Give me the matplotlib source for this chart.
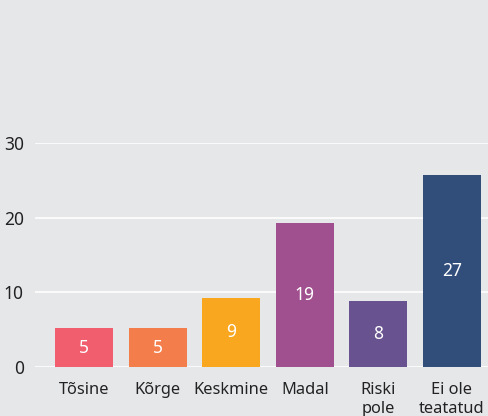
import matplotlib
matplotlib.use("Agg")
import matplotlib.pyplot as plt

categories = ["Tõsine", "Kõrge", "Keskmine", "Madal", "Riski\npole", "Ei ole\nteatatud"]
heights = [5.2, 5.2, 9.3, 19.3, 8.9, 25.7]
labels = ["5", "5", "9", "19", "8", "27"]
colors = ["#f15e6d", "#f47e4b", "#f9a71f", "#a0508f", "#68528f", "#314e7b"]
yticks = [0, 10, 20, 30]

plt.rcParams['font.family'] = ['Noto Sans', 'DejaVu Sans']
bg = "#e6e7e9"
fig = plt.figure(figsize=(4.88, 4.16), dpi=100, facecolor=bg)
ax = fig.add_axes([35/488, (416-367.3)/416, 453/488, (367.3-142.7)/416])
ax.set_facecolor(bg)

x = list(range(len(categories)))
bars = ax.bar(x, heights, width=0.79, color=colors, zorder=3)
ax.bar_label(bars, labels=labels, label_type='center', color='white', fontsize=12.5)

ax.set_ylim(0, 30)
ax.set_xlim(-0.666, 5.49)
ax.set_yticks(yticks)
ax.set_xticks(x)
ax.set_xticklabels(categories, fontsize=11.8, color="#222222", linespacing=1.25, va='top')
ax.tick_params(axis='y', length=0, pad=8, labelsize=12.5, labelcolor="#222222")
ax.tick_params(axis='x', length=0, pad=10.5)
ax.yaxis.grid(True, color='white', linewidth=1.2, zorder=0)
ax.set_axisbelow(True)
for s in ax.spines.values():
    s.set_visible(False)

fig.savefig("out.png", dpi=100, facecolor=bg)
